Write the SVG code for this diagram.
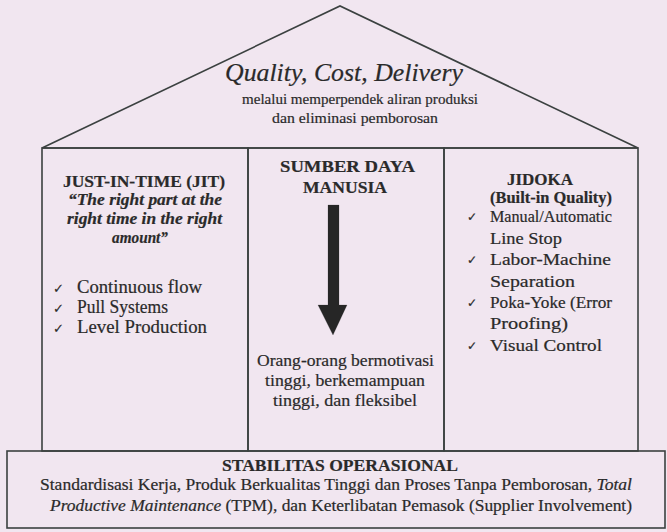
<svg xmlns="http://www.w3.org/2000/svg" width="667" height="532" viewBox="0 0 667 532">
<style>
.b{font-weight:bold}
.i{font-style:italic}
.ln{fill:none;stroke:#3b4140;stroke-width:1.6}
.ck{font-family:"DejaVu Sans",sans-serif}
</style>
<rect width="667" height="532" fill="#f1e6f0"/>
<g fill="#2a2a2a" stroke="#2a2a2a" stroke-width="0.2" font-family="Liberation Serif">
<g id="roof">
<polygon class="ln" points="42,148 340,6 638,148"/>
<text class="i" x="225" y="81" font-size="25" textLength="238" lengthAdjust="spacingAndGlyphs">Quality, Cost, Delivery</text>
<text x="242" y="104" font-size="15" textLength="236" lengthAdjust="spacingAndGlyphs">melalui memperpendek aliran produksi</text>
<text x="272" y="123" font-size="15.5" textLength="166" lengthAdjust="spacingAndGlyphs">dan eliminasi pemborosan</text>
</g>
<g id="jit">
<rect class="ln" x="42" y="148" width="206" height="303"/>
<text class="b" x="63" y="187" font-size="17" textLength="162" lengthAdjust="spacingAndGlyphs">JUST-IN-TIME (JIT)</text>
<text class="b i" x="68" y="205" font-size="17" textLength="154" lengthAdjust="spacingAndGlyphs">“The right part at the</text>
<text class="b i" x="67" y="224" font-size="17" textLength="155" lengthAdjust="spacingAndGlyphs">right time in the right</text>
<text class="b i" x="112" y="243" font-size="17" textLength="56" lengthAdjust="spacingAndGlyphs">amount”</text>
<text class="ck" x="53" y="293" font-size="13">✓</text><text x="77" y="293" font-size="18" textLength="125" lengthAdjust="spacingAndGlyphs">Continuous flow</text>
<text class="ck" x="53" y="313" font-size="13">✓</text><text x="77" y="313" font-size="18" textLength="91" lengthAdjust="spacingAndGlyphs">Pull Systems</text>
<text class="ck" x="53" y="333" font-size="13">✓</text><text x="77" y="333" font-size="18" textLength="130" lengthAdjust="spacingAndGlyphs">Level Production</text>
</g>
<g id="sdm">
<rect class="ln" x="248" y="148" width="196" height="303"/>
<text class="b" x="280" y="172" font-size="17.5" textLength="135" lengthAdjust="spacingAndGlyphs">SUMBER DAYA</text>
<text class="b" x="303" y="193" font-size="17.5" textLength="84" lengthAdjust="spacingAndGlyphs">MANUSIA</text>
<polygon fill="#262626" points="328,205 339,205 339,305 347,305 333,335 318,305 328,305"/>
<text x="257" y="366" font-size="17" textLength="177" lengthAdjust="spacingAndGlyphs">Orang-orang bermotivasi</text>
<text x="265" y="386" font-size="17" textLength="160" lengthAdjust="spacingAndGlyphs">tinggi, berkemampuan</text>
<text x="273" y="406" font-size="17" textLength="144" lengthAdjust="spacingAndGlyphs">tinggi, dan fleksibel</text>
</g>
<g id="jidoka">
<rect class="ln" x="444" y="148" width="194" height="303"/>
<text class="b" x="507" y="185" font-size="17" textLength="66" lengthAdjust="spacingAndGlyphs">JIDOKA</text>
<text class="b" x="490" y="203" font-size="16.5" textLength="122" lengthAdjust="spacingAndGlyphs">(Built-in Quality)</text>
<text class="ck" x="467" y="221" font-size="12">✓</text><text x="490" y="222" font-size="16" textLength="122" lengthAdjust="spacingAndGlyphs">Manual/Automatic</text>
<text x="490" y="244" font-size="16" textLength="72" lengthAdjust="spacingAndGlyphs">Line Stop</text>
<text class="ck" x="467" y="264" font-size="12">✓</text><text x="490" y="265" font-size="16" textLength="121" lengthAdjust="spacingAndGlyphs">Labor-Machine</text>
<text x="490" y="287" font-size="16" textLength="85" lengthAdjust="spacingAndGlyphs">Separation</text>
<text class="ck" x="467" y="307" font-size="12">✓</text><text x="490" y="308" font-size="16" textLength="122" lengthAdjust="spacingAndGlyphs">Poka-Yoke (Error</text>
<text x="490" y="329" font-size="16" textLength="78" lengthAdjust="spacingAndGlyphs">Proofing)</text>
<text class="ck" x="467" y="350" font-size="12">✓</text><text x="490" y="351" font-size="16" textLength="112" lengthAdjust="spacingAndGlyphs">Visual Control</text>
</g>
<g id="foundation">
<rect class="ln" x="7" y="451" width="658" height="77"/>
<text class="b" x="222" y="471" font-size="17" textLength="236" lengthAdjust="spacingAndGlyphs">STABILITAS OPERASIONAL</text>
<text x="40" y="490" font-size="16" textLength="592" lengthAdjust="spacingAndGlyphs">Standardisasi Kerja, Produk Berkualitas Tinggi dan Proses Tanpa Pemborosan, <tspan class="i">Total</tspan></text>
<text x="50" y="511" font-size="16" textLength="582" lengthAdjust="spacingAndGlyphs"><tspan class="i">Productive Maintenance</tspan> (TPM), dan Keterlibatan Pemasok (Supplier Involvement)</text>
</g>
</g>
<g id="connectors"/>
</svg>
